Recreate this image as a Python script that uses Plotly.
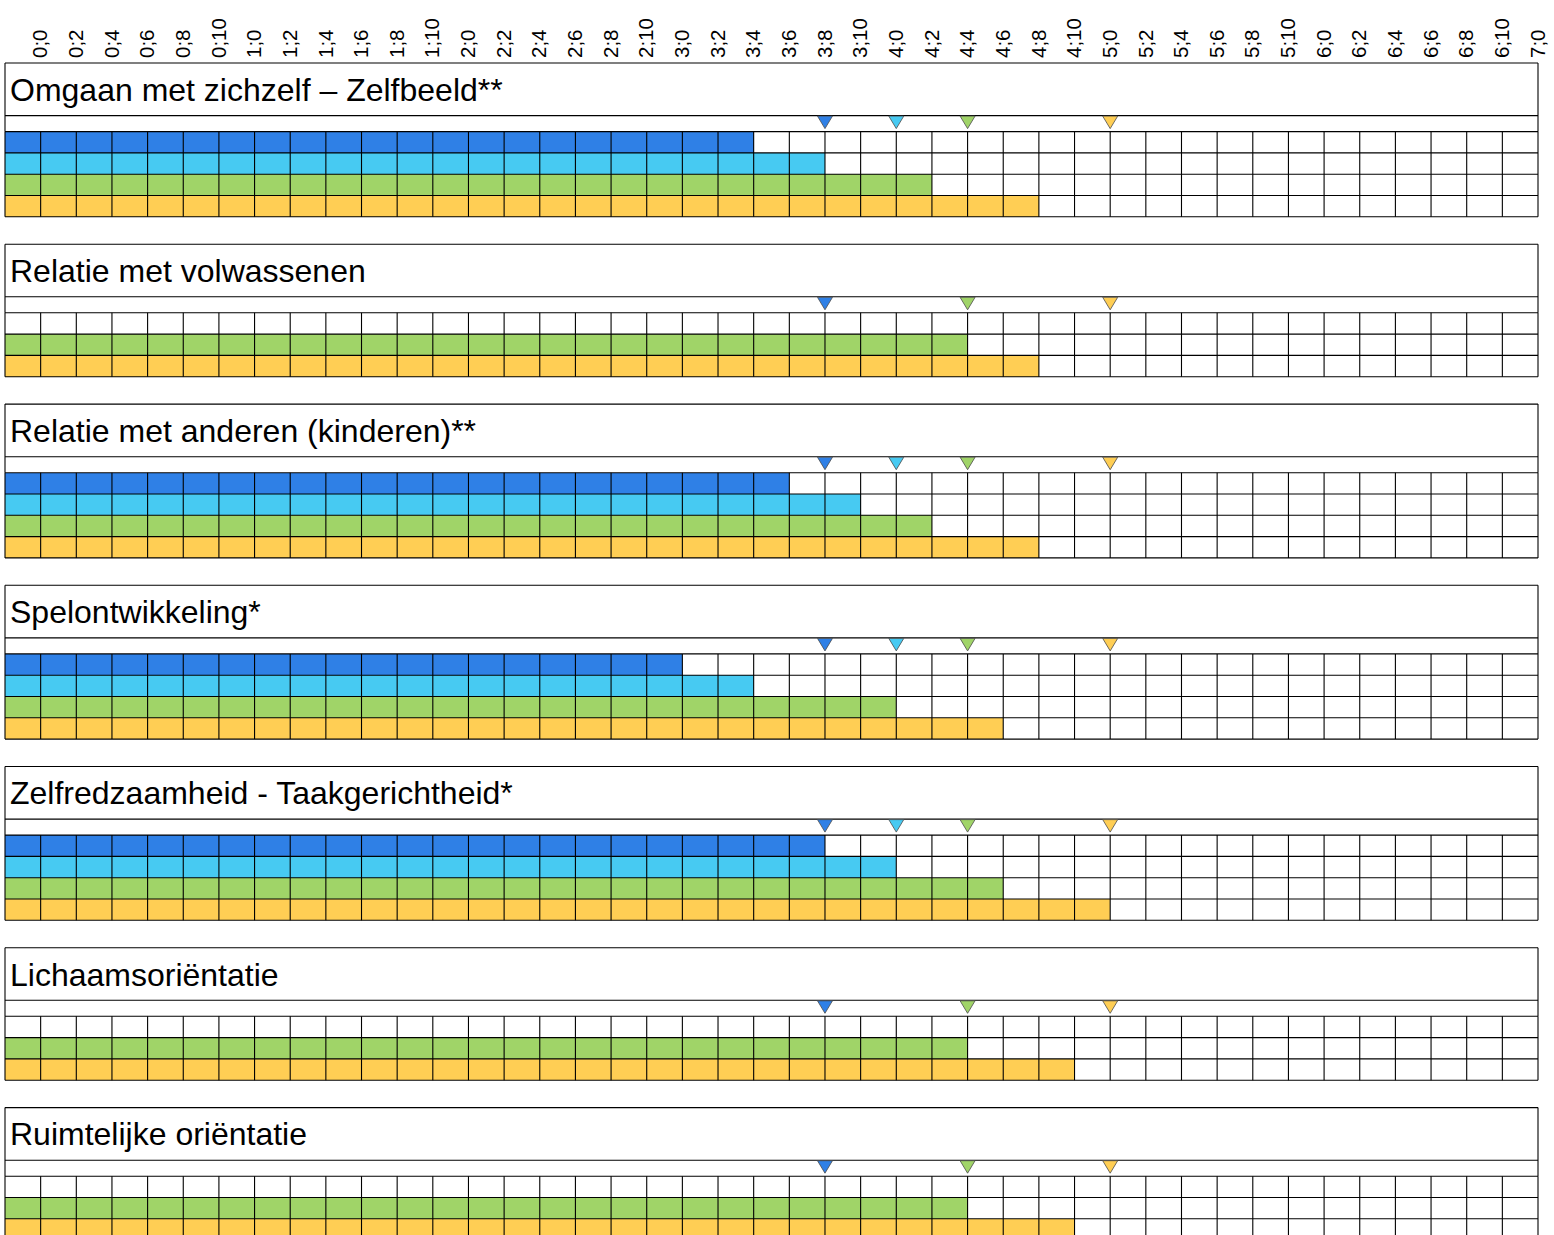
import plotly.graph_objects as go

# ---------------- data ----------------
AGE_TICKS = ["0;0", "0;2", "0;4", "0;6", "0;8", "0;10",
             "1;0", "1;2", "1;4", "1;6", "1;8", "1;10",
             "2;0", "2;2", "2;4", "2;6", "2;8", "2;10",
             "3;0", "3;2", "3;4", "3;6", "3;8", "3;10",
             "4;0", "4;2", "4;4", "4;6", "4;8", "4;10",
             "5;0", "5;2", "5;4", "5;6", "5;8", "5;10",
             "6;0", "6;2", "6;4", "6;6", "6;8", "6;10",
             "7;0"]

PANEL_TITLES = [
    "Omgaan met zichzelf – Zelfbeeld**",
    "Relatie met volwassenen",
    "Relatie met anderen (kinderen)**",
    "Spelontwikkeling*",
    "Zelfredzaamheid - Taakgerichtheid*",
    "Lichaamsoriëntatie",
    "Ruimtelijke oriëntatie",
]

PANEL_GROUPS = [
    ["groep1", "groep2", "groep3", "groep4"],
    ["groep1", "groep3", "groep4"],
    ["groep1", "groep2", "groep3", "groep4"],
    ["groep1", "groep2", "groep3", "groep4"],
    ["groep1", "groep2", "groep3", "groep4"],
    ["groep1", "groep3", "groep4"],
    ["groep1", "groep3", "groep4"],
]

DEV_AGE = [
    ["3;4", "3;8", "4;2", "4;8"],
    [None, "4;4", "4;8"],
    ["3;6", "3;10", "4;2", "4;8"],
    ["3;0", "3;4", "4;0", "4;6"],
    ["3;8", "4;0", "4;6", "5;0"],
    [None, "4;4", "4;10"],
    [None, "4;4", "4;10"],
]

GROUP_AGE = {"groep1": "3;8", "groep2": "4;0", "groep3": "4;4", "groep4": "5;0"}
GROUP_COLORS = {"groep1": "#2F80E6", "groep2": "#47CAF2",
                "groep3": "#A0D468", "groep4": "#FFCE54"}

# ---------------- layout constants ----------------
W, H = 1554, 1235
START, END = -2, 84          # months
STEP = 2
TOP = 63.0
TITLE_H = 52.6
STRIP_H = 16.0
ROW_H = 21.3
GAP = 27.4
TRI_HALF_PX = 7.5
TRI_H_PX = 13.0
FONT = "Liberation Sans, Arial, sans-serif"

L_MARGIN, R_MARGIN = 4, 15
PLOT_W = W - L_MARGIN - R_MARGIN
UPP = (END - START) / (PLOT_W - 2)   # x units per pixel
X_RANGE = [START - UPP, END + UPP]


def months(s):
    y, m = s.split(";")
    return int(y) * 12 + int(m)


fig = go.Figure()

line_x, line_y = [], []


def seg(x0, y0, x1, y1):
    line_x.extend([x0, x1, None])
    line_y.extend([y0, y1, None])


annotations = []
tri_traces = []
y = TOP
for title, groups, devs in zip(PANEL_TITLES, PANEL_GROUPS, DEV_AGE):
    t_top = y
    t_bot = t_top + TITLE_H
    s_bot = t_bot + STRIP_H
    n = len(groups)
    r_bot = s_bot + n * ROW_H

    # bars
    for i, (g, d) in enumerate(zip(groups, devs)):
        if d is None:
            continue
        yc = s_bot + (i + 0.5) * ROW_H
        fig.add_trace(go.Bar(
            x=[months(d) - START], base=[START], y=[yc], width=[ROW_H],
            orientation="h", marker=dict(color=GROUP_COLORS[g], line=dict(width=0)),
            hoverinfo="skip", showlegend=False))

    # frames
    for yy in (t_top, t_bot, s_bot):
        seg(START, yy, END, yy)
    seg(START, t_top, START, s_bot)
    seg(END, t_top, END, s_bot)
    # grid
    for i in range(1, n + 1):
        yy = s_bot + i * ROW_H
        seg(START, yy, END, yy)
    for xx in range(START, END + 1, STEP):
        seg(xx, s_bot, xx, r_bot)

    # markers
    for g in groups:
        m = months(GROUP_AGE[g])
        hw = TRI_HALF_PX * UPP
        tri_traces.append(go.Scatter(
            x=[m - hw, m + hw, m, m - hw],
            y=[t_bot + 0.5, t_bot + 0.5, t_bot + TRI_H_PX, t_bot + 0.5],
            mode="lines", fill="toself", fillcolor=GROUP_COLORS[g],
            line=dict(color="#4a4a4a", width=0.8),
            hoverinfo="skip", showlegend=False))

    annotations.append(dict(
        x=START, y=(t_top + t_bot) / 2 + 0.5, xref="x", yref="y",
        text=title, showarrow=False, xanchor="left", yanchor="middle",
        xshift=3, font=dict(family=FONT, size=32, color="#000000")))

    y = r_bot + GAP

fig.add_trace(go.Scatter(x=line_x, y=line_y, mode="lines",
                         line=dict(color="#000000", width=1.1),
                         hoverinfo="skip", showlegend=False))
for t in tri_traces:
    fig.add_trace(t)

fig.update_layout(
    width=W, height=H,
    margin=dict(l=L_MARGIN, r=R_MARGIN, t=int(TOP) - 1, b=0, pad=0),
    paper_bgcolor="white", plot_bgcolor="white",
    barmode="overlay", bargap=0,
    showlegend=False,
    annotations=annotations,
    xaxis=dict(range=X_RANGE, side="top", tickmode="array",
               tickvals=[months(t) for t in AGE_TICKS], ticktext=AGE_TICKS,
               tickangle=-90, tickfont=dict(family=FONT, size=20.5, color="#000000"),
               ticklabelstandoff=3,
               showgrid=False, zeroline=False, showline=False, ticks="",
               automargin=False, fixedrange=True),
    yaxis=dict(range=[H, TOP - 1], showgrid=False, zeroline=False,
               showline=False, showticklabels=False, ticks="", fixedrange=True),
)

fig.write_html("out.html", config={"displayModeBar": False},
               post_script="document.body.style.margin='0px';document.body.style.overflow='hidden';")
